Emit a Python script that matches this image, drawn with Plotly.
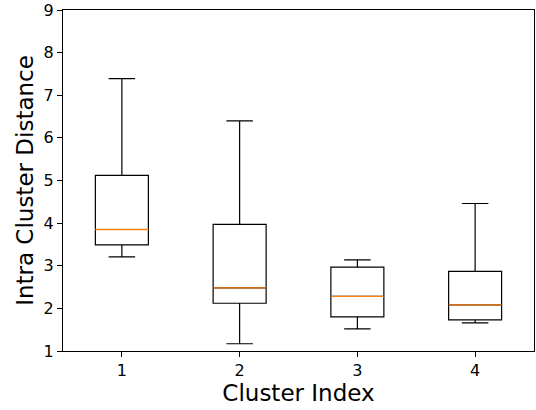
import plotly.graph_objects as go

# Per-cluster box statistics
clusters = [1, 2, 3, 4]
lower_whisker = [3.21, 1.17, 1.52, 1.66]
q1 = [3.49, 2.12, 1.80, 1.73]
median = [3.85, 2.48, 2.28, 2.08]
q3 = [5.12, 3.97, 2.97, 2.87]
upper_whisker = [7.39, 6.40, 3.14, 4.46]
y_ticks = [1, 2, 3, 4, 5, 6, 7, 8, 9]

BOX_WIDTH = 0.45
FONT = "DejaVu Sans"

fig = go.Figure()

fig.add_trace(go.Box(
    x=clusters,
    q1=q1,
    median=median,
    q3=q3,
    lowerfence=lower_whisker,
    upperfence=upper_whisker,
    width=BOX_WIDTH,
    whiskerwidth=0.5,
    line=dict(color="black", width=1.2),
    fillcolor="white",
    boxpoints=False,
    hoverinfo="skip",
    showlegend=False,
))

# Median lines in orange drawn across each box
mx, my = [], []
for c, m in zip(clusters, median):
    mx += [c - BOX_WIDTH / 2, c + BOX_WIDTH / 2, None]
    my += [m, m, None]
fig.add_trace(go.Scatter(
    x=mx, y=my, mode="lines",
    line=dict(color="#ff7f0e", width=1.3),
    hoverinfo="skip", showlegend=False,
))

axis_common = dict(
    showgrid=False, zeroline=False,
    showline=True, linecolor="black", linewidth=1, mirror=True,
    ticks="outside", ticklen=5, tickwidth=1, tickcolor="black",
    tickfont=dict(family=FONT, size=16, color="black"),
    ticklabeloverflow="allow",
)

fig.update_layout(
    width=536, height=410,
    margin=dict(l=63, r=1, t=8, b=59),
    plot_bgcolor="white", paper_bgcolor="white",
    xaxis=dict(
        range=[0.5, 4.5], tickvals=clusters,
        title=dict(text="Cluster Index", font=dict(family=FONT, size=23, color="black"), standoff=4),
        **axis_common,
    ),
    yaxis=dict(
        range=[1, 9], tickvals=y_ticks,
        title=dict(text="Intra Cluster Distance", font=dict(family=FONT, size=23, color="black"), standoff=3),
        **axis_common,
    ),
)

fig.write_html("out.html")
